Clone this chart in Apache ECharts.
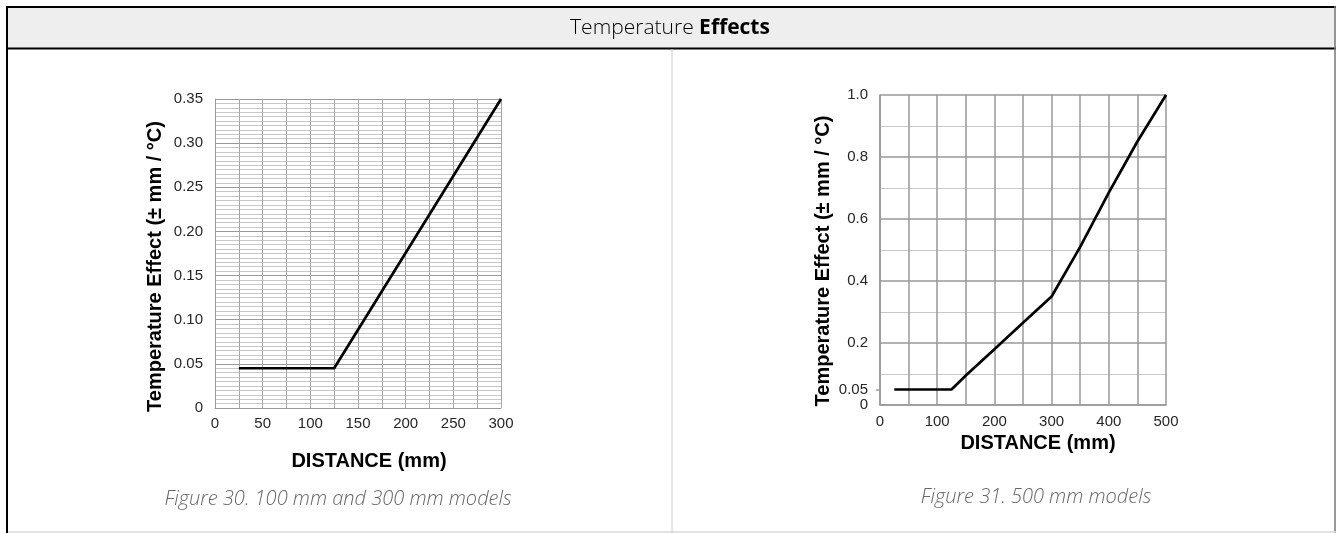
<!DOCTYPE html>
<html>
<head>
<meta charset="utf-8">
<script src="https://cdn.jsdelivr.net/npm/echarts@6/dist/echarts.min.js"></script>
<style>
html,body{margin:0;padding:0;background:#fff;}
#c{width:1336px;height:533px;}
</style>
</head>
<body>
<div id="c"></div>
<script>
// ---- data ----
const headerPlain = 'Temperature ';
const headerBold = 'Effects';
const yAxisName = 'Temperature Effect (± mm / °C)';
const xAxisName = 'DISTANCE (mm)';
const caption1 = 'Figure 30. 100 mm and 300 mm models';
const caption2 = 'Figure 31. 500 mm models';

const distance1 = [25, 125, 300];
const effect1 = [0.045, 0.045, 0.35];

const distance2 = [25, 125, 150, 200, 250, 300, 350, 400, 450, 500];
const effect2 = [0.05, 0.05, 0.095, 0.18, 0.265, 0.35, 0.51, 0.685, 0.85, 1.0];

const extraYLabel2 = [0.05];

const chart = echarts.init(document.getElementById('c'), null, {renderer: 'canvas'});
const lblFont = 'Liberation Sans, Arial, sans-serif';
const lblColor = '#262626';
const capFont = 'Open Sans, sans-serif';

function pairs(xs, ys) { return xs.map((x, i) => [x, ys[i]]); }

const option = {
  animation: false,
  backgroundColor: '#fff',
  grid: [
    {left: 215, top: 99, width: 286, height: 309},
    {left: 880, top: 95, width: 286, height: 310}
  ],
  xAxis: [
    {
      gridIndex: 0, type: 'value', min: 0, max: 300, interval: 50,
      name: xAxisName, nameLocation: 'middle', nameGap: 43,
      nameTextStyle: {fontFamily: lblFont, fontSize: 20, fontWeight: 'bold', color: '#000', padding: [0, 0, 0, 22]},
      axisLine: {show: true, lineStyle: {color: '#999', width: 1}},
      axisTick: {show: false},
      axisLabel: {fontFamily: lblFont, fontSize: 15, color: lblColor, margin: 8},
      splitLine: {show: true, lineStyle: {color: '#a6a6a6', width: 1}},
      minorTick: {show: false, splitNumber: 2},
      minorSplitLine: {show: true, lineStyle: {color: '#a6a6a6', width: 1}}
    },
    {
      gridIndex: 1, type: 'value', min: 0, max: 500, interval: 100,
      name: xAxisName, nameLocation: 'middle', nameGap: 28,
      nameTextStyle: {fontFamily: lblFont, fontSize: 20, fontWeight: 'bold', color: '#000', padding: [0, 0, 0, 30]},
      axisLine: {show: true, lineStyle: {color: '#999', width: 1.5}},
      axisTick: {show: false},
      axisLabel: {fontFamily: lblFont, fontSize: 15, color: lblColor, margin: 9},
      splitLine: {show: true, lineStyle: {color: '#999', width: 1.5}},
      minorTick: {show: false, splitNumber: 2},
      minorSplitLine: {show: true, lineStyle: {color: '#999', width: 1.5}}
    }
  ],
  yAxis: [
    {
      gridIndex: 0, type: 'value', min: 0, max: 0.35, interval: 0.05,
      name: yAxisName, nameLocation: 'middle', nameGap: 50,
      nameTextStyle: {fontFamily: lblFont, fontSize: 20, fontWeight: 'bold', color: '#000', padding: [0, 26, 0, 0]},
      axisLine: {show: true, lineStyle: {color: '#999', width: 1}},
      axisTick: {show: false},
      axisLabel: {fontFamily: lblFont, fontSize: 15, color: lblColor, margin: 12,
        formatter: v => (v === 0 ? '0' : v.toFixed(2))},
      splitLine: {show: true, lineStyle: {color: '#999', width: 1}},
      minorTick: {show: false, splitNumber: 10},
      minorSplitLine: {show: true, lineStyle: {color: '#c8c8c8', width: 1}}
    },
    {
      gridIndex: 1, type: 'value', min: 0, max: 1, interval: 0.2,
      name: yAxisName, nameLocation: 'middle', nameGap: 47,
      nameTextStyle: {fontFamily: lblFont, fontSize: 20, fontWeight: 'bold', color: '#000', padding: [0, 22, 0, 0]},
      axisLine: {show: true, lineStyle: {color: '#999', width: 1.5}},
      axisTick: {show: false},
      axisLabel: {fontFamily: lblFont, fontSize: 15, color: lblColor, margin: 12,
        formatter: v => (v === 0 ? '0' : v.toFixed(1))},
      splitLine: {show: true, lineStyle: {color: '#999', width: 1.5}},
      minorTick: {show: false, splitNumber: 2},
      minorSplitLine: {show: true, lineStyle: {color: '#c8c8c8', width: 1}}
    },
    {
      gridIndex: 1, type: 'value', min: 0, max: 1, position: 'left',
      axisLine: {show: false},
      axisTick: {show: true, customValues: extraYLabel2, length: 4, lineStyle: {color: '#999', width: 1.5}},
      axisLabel: {fontFamily: lblFont, fontSize: 15, color: lblColor, margin: 12,
        customValues: extraYLabel2, formatter: v => v.toFixed(2)},
      splitLine: {show: false}
    }
  ],
  series: [
    {type: 'line', xAxisIndex: 0, yAxisIndex: 0, data: pairs(distance1, effect1),
      showSymbol: false, lineStyle: {color: '#000', width: 2.7}, z: 5},
    {type: 'line', xAxisIndex: 1, yAxisIndex: 1, data: pairs(distance2, effect2),
      showSymbol: false, lineStyle: {color: '#000', width: 2.7}, z: 5}
  ],
  graphic: [
    {type: 'rect', shape: {x: 8, y: 7, width: 1328, height: 41}, style: {fill: '#eeeeee'}, silent: true},
    {type: 'line', shape: {x1: 6, y1: 7, x2: 1336, y2: 7}, style: {stroke: '#000', lineWidth: 2}},
    {type: 'line', shape: {x1: 6, y1: 48.5, x2: 1336, y2: 48.5}, style: {stroke: '#000', lineWidth: 2}},
    {type: 'line', shape: {x1: 7, y1: 6, x2: 7, y2: 533}, style: {stroke: '#000', lineWidth: 2}},
    {type: 'line', shape: {x1: 1335, y1: 6, x2: 1335, y2: 533}, style: {stroke: '#777', lineWidth: 1.5}},
    {type: 'line', shape: {x1: 8, y1: 532, x2: 1336, y2: 532}, style: {stroke: '#d9d9d9', lineWidth: 1.5}},
    {type: 'line', shape: {x1: 672, y1: 49, x2: 672, y2: 533}, style: {stroke: '#cccccc', lineWidth: 1}},
    {type: 'text', x: 670, y: 28,
      style: {text: '{a|' + headerPlain + '}{b|' + headerBold + '}', align: 'center', verticalAlign: 'middle',
        rich: {
          a: {fontFamily: capFont, fontSize: 21, fontWeight: 300, color: '#000'},
          b: {fontFamily: capFont, fontSize: 21, fontWeight: 'bold', color: '#000'}
        }}},
    {type: 'text', x: 338, y: 499,
      style: {text: caption1, align: 'center', verticalAlign: 'middle',
        fontFamily: capFont, fontSize: 20, fontWeight: 300, fontStyle: 'italic', fill: '#666'}},
    {type: 'text', x: 1036, y: 497,
      style: {text: caption2, align: 'center', verticalAlign: 'middle',
        fontFamily: capFont, fontSize: 20, fontWeight: 300, fontStyle: 'italic', fill: '#666'}}
  ]
};
chart.setOption(option);
</script>
</body>
</html>
